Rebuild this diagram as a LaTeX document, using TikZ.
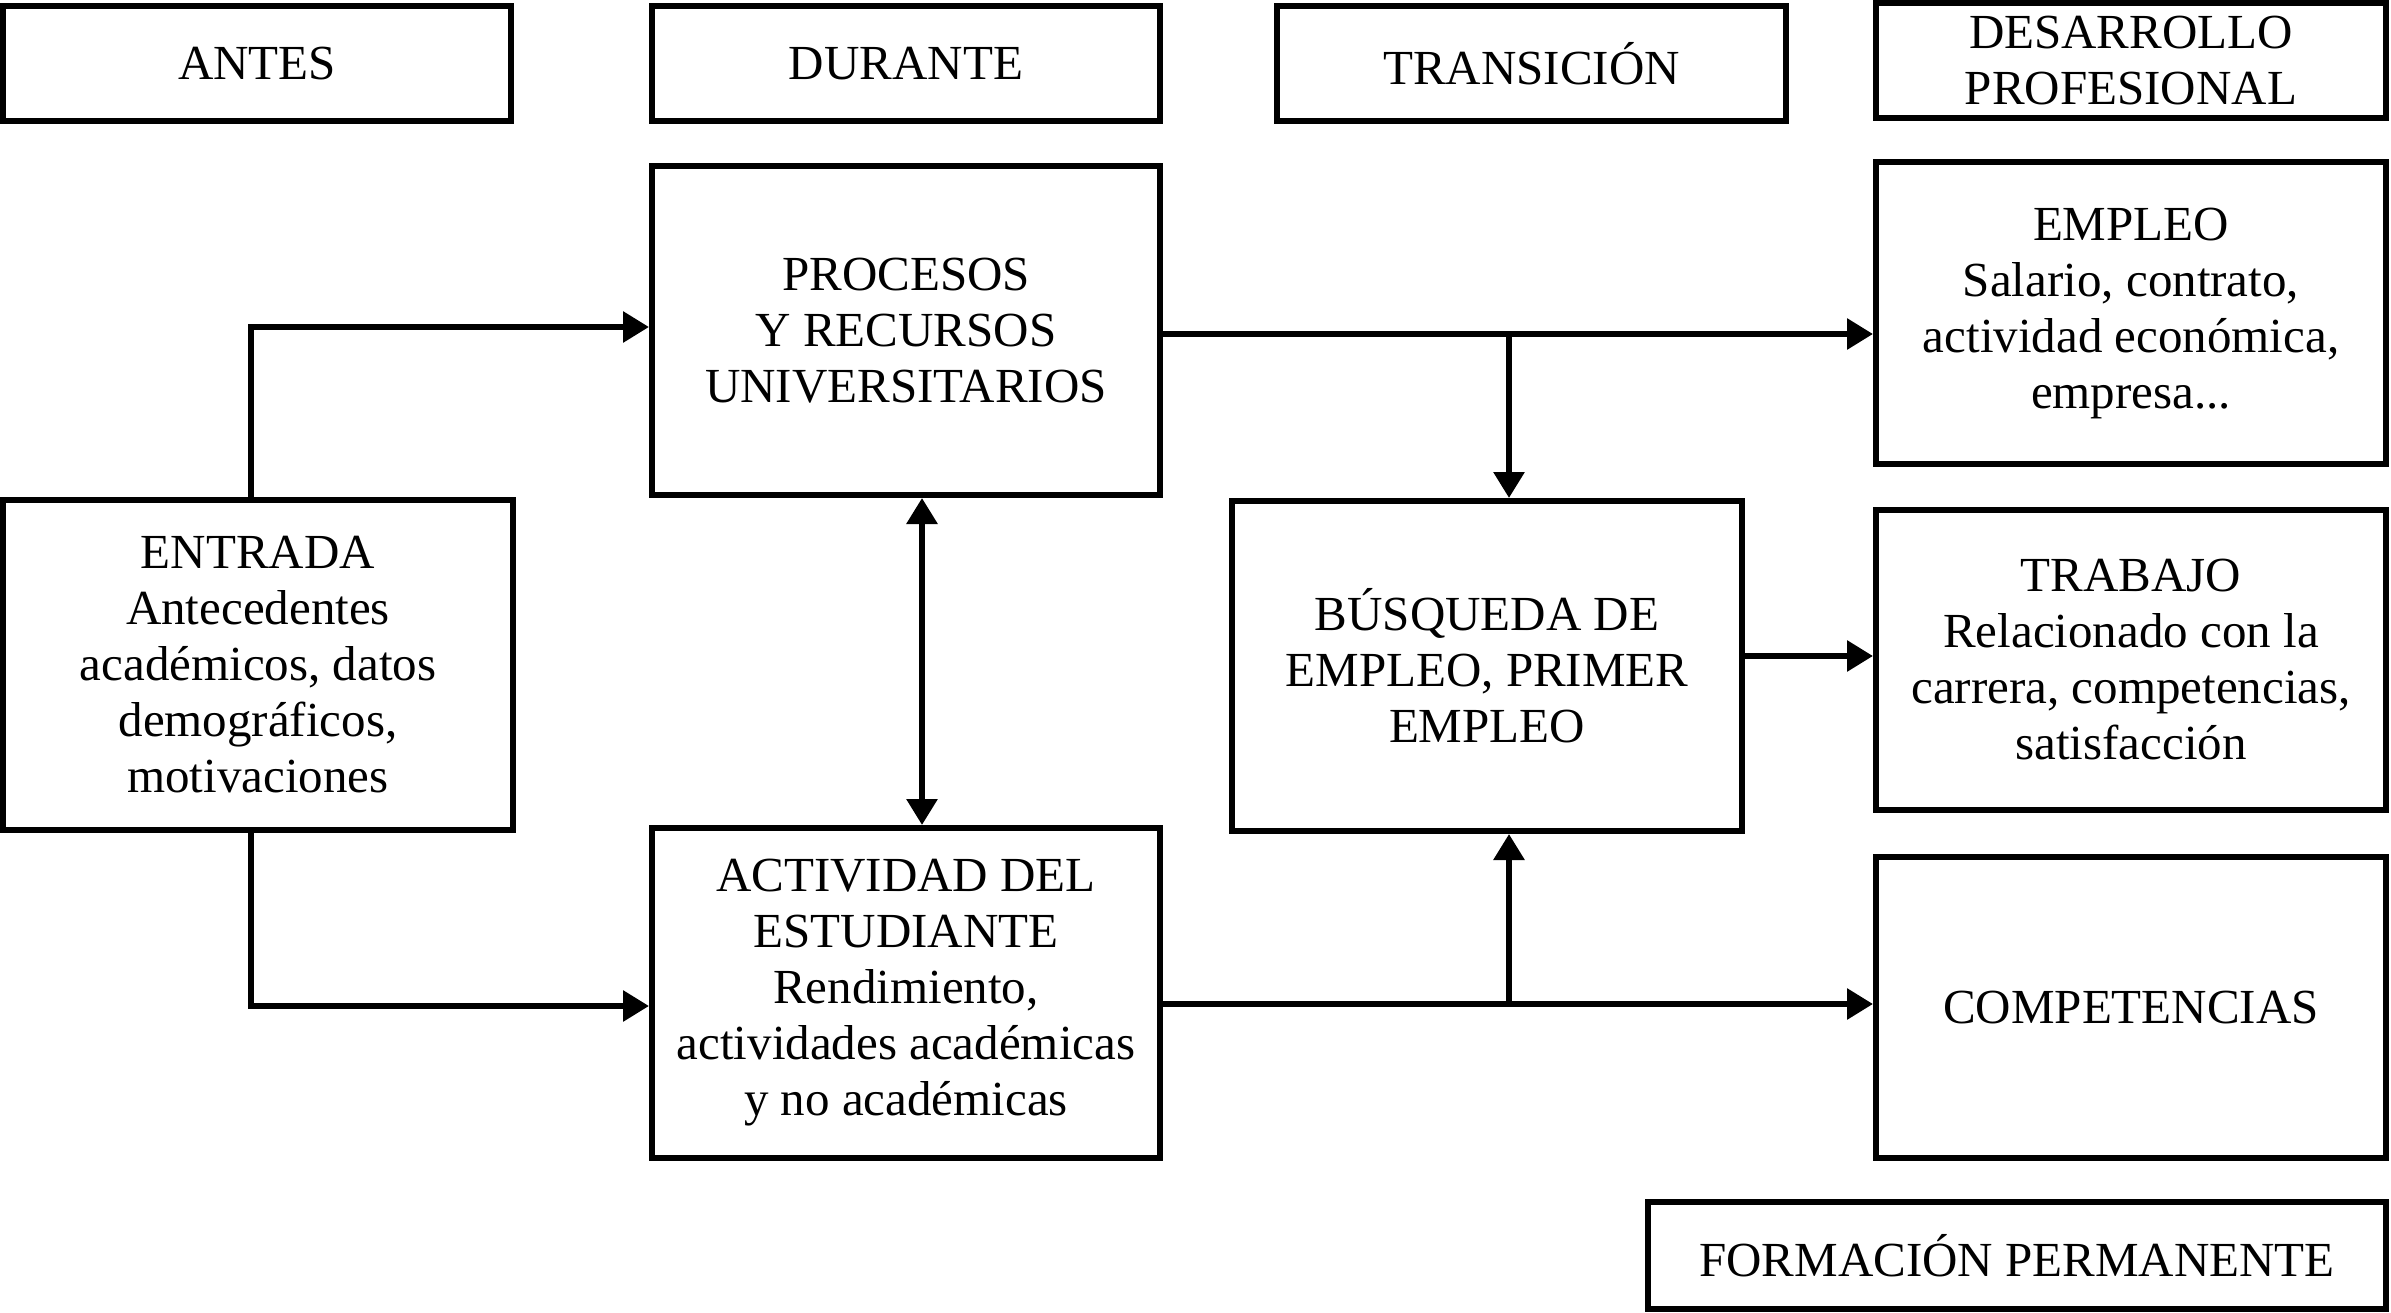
\documentclass[tikz,border=0pt]{standalone}
\usepackage{fontspec}
\setmainfont{Liberation Serif}
\usetikzlibrary{arrows.meta}
\begin{document}
\begin{tikzpicture}[x=1pt,y=-1pt,
  box/.style={draw, line width=6pt, inner sep=0pt, align=center,
    font=\fontsize{49}{56}\selectfont},
  arr/.style={line width=6pt, -{Triangle[length=26pt,width=30pt]}},
  biarr/.style={line width=6pt, {Triangle[length=26pt,width=30pt]}-{Triangle[length=26pt,width=30pt]}},
  ln/.style={line width=6pt}]
\useasboundingbox (0,0) rectangle (2391,1313);
% header boxes
\node[box, minimum width=508pt, minimum height=115pt] (antes) at (257,63.5) {ANTES};
\node[box, minimum width=508pt, minimum height=115pt] (durante) at (906,63.5) {DURANTE};
\node[box, minimum width=509pt, minimum height=115pt] (trans) at (1531.5,63.5) {TRANSICIÓN};
\node[box, minimum width=510pt, minimum height=115pt] (desarrollo) at (2131,60.5) {DESARROLLO\\PROFESIONAL};
% main boxes
\node[box, minimum width=508pt, minimum height=329pt] (procesos) at (906,330.5) {PROCESOS\\Y RECURSOS\\UNIVERSITARIOS};
\node[box, minimum width=510pt, minimum height=302pt] (empleo) at (2131,313) {EMPLEO\\Salario, contrato,\\actividad económica,\\empresa...};
\node[box, minimum width=510pt, minimum height=330pt] (entrada) at (258,665) {ENTRADA\\Antecedentes\\académicos, datos\\demográficos,\\motivaciones};
\node[box, minimum width=508pt, minimum height=330pt] (actividad) at (906,993) {ACTIVIDAD DEL\\ESTUDIANTE\\Rendimiento,\\actividades académicas\\y no académicas};
\node[box, minimum width=510pt, minimum height=330pt] (busqueda) at (1487,666) {BÚSQUEDA DE\\EMPLEO, PRIMER\\EMPLEO};
\node[box, minimum width=510pt, minimum height=300pt] (trabajo) at (2131,660) {TRABAJO\\Relacionado con la\\carrera, competencias,\\satisfacción};
\node[box, minimum width=510pt, minimum height=301pt] (compet) at (2131,1007.5) {COMPETENCIAS};
\node[box, minimum width=738pt, minimum height=107pt] (formacion) at (2017,1255.5) {FORMACIÓN PERMANENTE};
% junction coordinates
\coordinate (j1) at (251,327);
\coordinate (j2) at (251,1006);
\coordinate (j3) at (922,660);
\coordinate (j4) at (1509,334);
\coordinate (j5) at (1800,656);
\coordinate (j6) at (1509,1004);
% connectors
\draw[arr] (entrada.north -| j1) |- (procesos.west |- j1);
\draw[arr] (entrada.south -| j2) |- (actividad.west |- j2);
\draw[biarr] (procesos.south -| j3) -- (actividad.north -| j3);
\draw[arr] (procesos.east |- j4) -- (empleo.west |- j4);
\draw[arr] (j4) -- (busqueda.north -| j4);
\draw[arr] (busqueda.east |- j5) -- (trabajo.west |- j5);
\draw[arr] (actividad.east |- j6) -- (compet.west |- j6);
\draw[arr] (j6) -- (busqueda.south -| j6);
\end{tikzpicture}
\end{document}
